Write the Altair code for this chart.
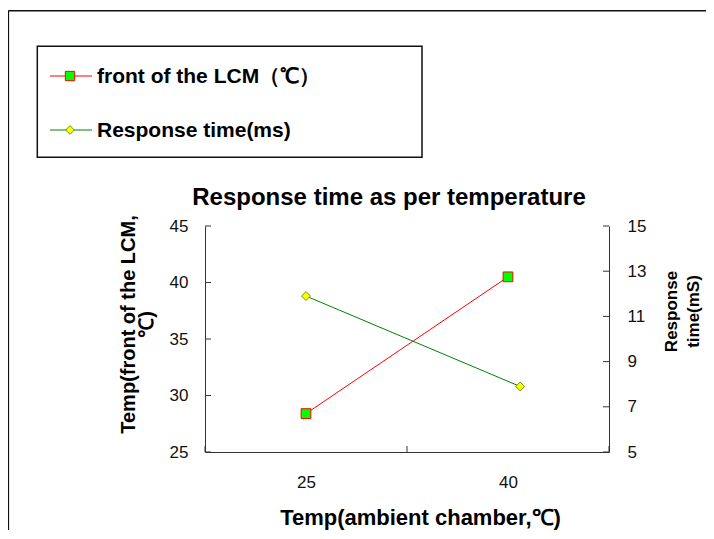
import altair as alt
import pandas as pd

# ---- data ----
ambient_temp = [25, 40]                 # x categories (ambient chamber, ℃)
lcm_front_temp = [28.4, 40.5]           # left axis series (front of the LCM, ℃)
response_x = [25, 40.9]                 # where the response-time markers sit
response_time = [11.9, 7.9]             # right axis series (ms)
left_ticks = [25, 30, 35, 40, 45]
right_ticks = [5, 7, 9, 11, 13, 15]
x_bounds = [17.5, 32.5, 47.5]           # category boundaries (tick marks)
legend_labels = ["front of the LCM（℃）", "Response time(ms)"]
chart_title = "Response time as per temperature"

FONT = "Liberation Sans, Arial, Helvetica, sans-serif"
W, H = 404, 226
PAD_L, PAD_T = 197, 218
TOTAL_W, TOTAL_H = 698, 522

red_df = pd.DataFrame({"amb": ambient_temp, "lcm": lcm_front_temp})
green_df = pd.DataFrame({"amb": response_x, "resp": response_time})
lt_df = pd.DataFrame({"v": left_ticks})
rt_df = pd.DataFrame({"v": right_ticks})
xb_df = pd.DataFrame({"amb": x_bounds})
one = pd.DataFrame({"a": [0]})

xscale = alt.Scale(domain=[17.5, 47.5], nice=False, zero=False)
xaxis = alt.Axis(values=ambient_temp, tickSize=0, labelFontSize=17, labelPadding=22,
                 labelColor="#111", title="Temp(ambient chamber,℃)", titleFontSize=22,
                 titleFontWeight="bold", titlePadding=17, titleX=215, titleColor="#000",
                 grid=False, domainColor="#333")
lscale = alt.Scale(domain=[25, 45], nice=False, zero=False)
laxis = alt.Axis(orient="left", values=left_ticks, tickSize=0, labelFontSize=17, labelPadding=17,
                 labelColor="#111", title=["Temp(front of the LCM,", "℃)"], titleFontSize=20,
                 titleFontWeight="bold", titlePadding=13, titleLineHeight=18, titleY=98,
                 titleColor="#000", grid=False, domainColor="#333")
rscale = alt.Scale(domain=[5, 15], nice=False, zero=False)
raxis = alt.Axis(orient="right", values=right_ticks, tickSize=0, labelFontSize=17, labelPadding=18,
                 labelColor="#111", title=["Response", "time(mS)"], titleFontSize=17,
                 titleFontWeight="bold", titleAngle=270, titleBaseline="top",
                 titleLineHeight=22, titleX=54, titleY=85, titleColor="#000", grid=False,
                 domainColor="#333")

X = alt.X("amb:Q", scale=xscale, axis=xaxis)

red_line = alt.Chart(red_df).mark_line(color="#FF0000", strokeWidth=1).encode(
    x=X, y=alt.Y("lcm:Q", scale=lscale, axis=laxis))
red_pts = alt.Chart(red_df).mark_point(shape="square", size=95, filled=True, fill="#00FF00",
                                       stroke="#FF0000", strokeWidth=1, opacity=1).encode(
    x=X, y=alt.Y("lcm:Q", scale=lscale, axis=laxis))
left_tick_marks = alt.Chart(lt_df).mark_rule(color="#333", strokeWidth=1).encode(
    y=alt.Y("v:Q", scale=lscale, axis=laxis), x=alt.value(0), x2=alt.value(6))
red_group = alt.layer(red_line, red_pts, left_tick_marks)

green_line = alt.Chart(green_df).mark_line(color="#008000", strokeWidth=1).encode(
    x=X, y=alt.Y("resp:Q", scale=rscale, axis=raxis))
green_pts = alt.Chart(green_df).mark_point(shape="diamond", size=80, filled=True, fill="#FFFF00",
                                           stroke="#669900", strokeWidth=1, opacity=1).encode(
    x=X, y=alt.Y("resp:Q", scale=rscale, axis=raxis))
right_tick_marks = alt.Chart(rt_df).mark_rule(color="#333", strokeWidth=1).encode(
    y=alt.Y("v:Q", scale=rscale, axis=raxis), x=alt.value(W - 6), x2=alt.value(W))
green_group = alt.layer(green_line, green_pts, right_tick_marks)

x_tick_marks = alt.Chart(xb_df).mark_rule(color="#333", strokeWidth=1).encode(
    x=X, y=alt.value(H - 6), y2=alt.value(H))

# outer frame
frame_left = alt.Chart(one).mark_rule(color="#111", strokeWidth=1.6).encode(
    x=alt.value(-196.7), y=alt.value(-215.2), y2=alt.value(H + 120))
frame_top = alt.Chart(one).mark_rule(color="#111", strokeWidth=1.6).encode(
    x=alt.value(-196.7), x2=alt.value(W + 130), y=alt.value(-215.2))

# legend box + entries
legend_box = alt.Chart(one).mark_rect(fill="white", stroke="#111", strokeWidth=1.5).encode(
    x=alt.value(-167.7), x2=alt.value(217), y=alt.value(-179.7), y2=alt.value(-68.7))

leg_layers = []
leg_specs = [
    (legend_labels[0], -150, "#FF0000", "square", "#00FF00", "#FF0000", 87),
    (legend_labels[1], -96, "#008000", "diamond", "#FFFF00", "#669900", 76),
]
for lab, yy, lc, shp, fc, sc, sz in leg_specs:
    d = pd.DataFrame({"label": [lab]})
    leg_layers.append(alt.Chart(d).mark_rule(color=lc, strokeWidth=1).encode(
        x=alt.value(-155), x2=alt.value(-113), y=alt.value(yy)))
    leg_layers.append(alt.Chart(d).mark_point(shape=shp, size=sz, filled=True, fill=fc,
                                              stroke=sc, strokeWidth=1, opacity=1).encode(
        x=alt.value(-135), y=alt.value(yy)))
    leg_layers.append(alt.Chart(d).mark_text(align="left", baseline="middle", fontSize=21,
                                             fontWeight="bold", font=FONT, color="#000").encode(
        text="label:N", x=alt.value(-108), y=alt.value(yy + 1)))

title_mark = alt.Chart(pd.DataFrame({"t": [chart_title]})).mark_text(
    align="center", baseline="alphabetic", fontSize=24, fontWeight="bold", font=FONT,
    color="#000").encode(text="t:N", x=alt.value(184), y=alt.value(-21))

chart = alt.layer(
    frame_left, frame_top, legend_box, *leg_layers, title_mark,
    x_tick_marks, red_group, green_group,
).resolve_scale(y="independent").properties(
    width=W, height=H,
    autosize=alt.AutoSizeParams(type="none"),
    padding={"left": PAD_L, "top": PAD_T, "right": TOTAL_W - PAD_L - W, "bottom": TOTAL_H - PAD_T - H},
    background="white",
).configure(font=FONT).configure_view(stroke=None)

chart.save("out.html", embed_options={"renderer": "svg", "actions": False})
